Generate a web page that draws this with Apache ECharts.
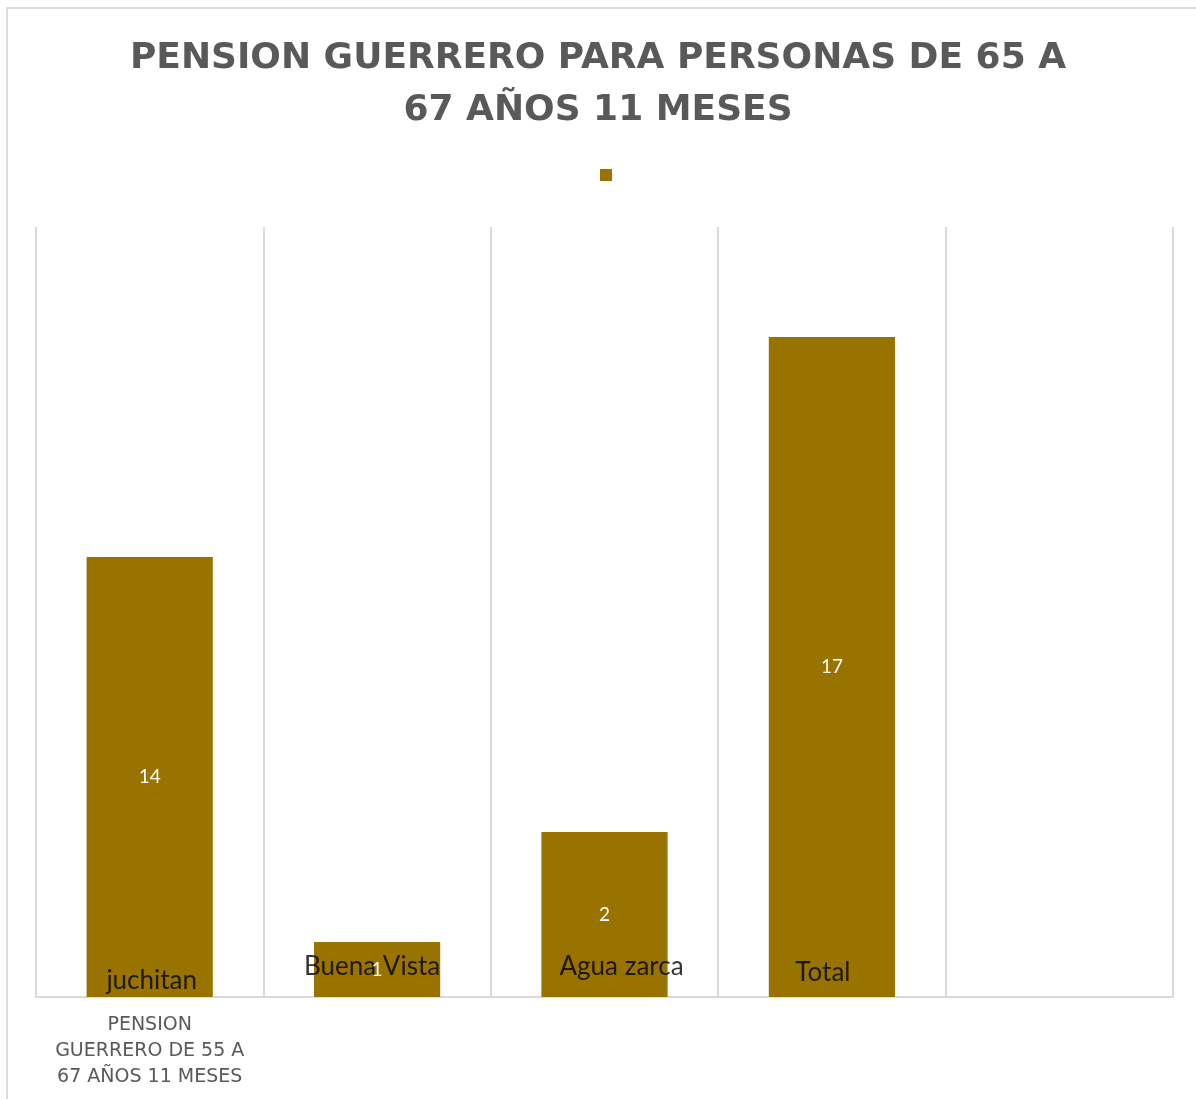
<!DOCTYPE html>
<html>
<head>
<meta charset="utf-8">
<script src="https://cdn.jsdelivr.net/npm/echarts@6/dist/echarts.min.js"></script>
<style>
  html, body { margin: 0; padding: 0; background: #fff; }
  #chart { width: 1196px; height: 1099px; }
</style>
</head>
<body>
<div id="chart"></div>
<script>
// Data
const categories = ['PENSION\nGUERRERO DE 55 A\n67 AÑOS 11 MESES', '', '', '', ''];
const barValues = [8, 1, 3, 12];
const valueLabels = ['14', '1', '2', '17'];
const placeNames = ['juchitan', 'Buena Vista', 'Agua zarca', 'Total'];
const titleText = 'PENSION GUERRERO PARA PERSONAS DE 65 A\n67 AÑOS 11 MESES';

const BAR_COLOR = '#997300';
const GRID_COLOR = '#d9d9d9';

// where the place names sit inside each bar (axis units) and their nudge
const nameLevels = [0.29, 0.56, 0.56, 0.44];
const nameShift = [2, -5, 17, -9];

const chart = echarts.init(document.getElementById('chart'));

chart.setOption({
  backgroundColor: '#fff',
  animation: false,
  title: {
    text: titleText,
    left: 'center',
    top: 28,
    textStyle: {
      fontFamily: 'DejaVu Sans',
      fontSize: 36,
      fontWeight: 'bold',
      color: '#595959',
      lineHeight: 52
    }
  },
  legend: {
    data: ['serie'],
    top: 164,
    left: 595,
    icon: 'rect',
    itemWidth: 12,
    itemHeight: 12,
    itemGap: 0,
    formatter: () => ''
  },
  grid: {
    left: 36,
    right: 23,
    top: 227,
    bottom: 102
  },
  xAxis: {
    type: 'category',
    data: categories,
    boundaryGap: true,
    axisLine: { lineStyle: { color: GRID_COLOR, width: 2 } },
    axisTick: { show: false },
    splitLine: { show: true, lineStyle: { color: GRID_COLOR, width: 2 } },
    axisLabel: {
      interval: 0,
      margin: 15,
      color: '#595959',
      fontFamily: 'DejaVu Sans',
      fontSize: 19,
      lineHeight: 26
    }
  },
  yAxis: {
    type: 'value',
    min: 0,
    max: 14,
    interval: 2,
    axisLine: { show: false },
    axisTick: { show: false },
    axisLabel: { show: false },
    splitLine: { show: false }
  },
  series: [
    {
      name: 'serie',
      type: 'bar',
      z: 2,
      barWidth: '55.5%',
      data: barValues,
      itemStyle: { color: BAR_COLOR }
    },
    {
      // place names written across the bars
      name: 'nombres',
      type: 'scatter',
      z: 3,
      silent: true,
      symbolSize: 0,
      data: placeNames.map((n, i) => ({
        value: [i, nameLevels[i]],
        name: n,
        label: { offset: [nameShift[i], 0] }
      })),
      label: {
        show: true,
        position: 'inside',
        formatter: p => p.name,
        color: '#000',
        fontFamily: 'Lato',
        fontSize: 26
      }
    },
    {
      // value labels, drawn on top of the names
      name: 'valores',
      type: 'bar',
      z: 4,
      barWidth: '55.5%',
      barGap: '-100%',
      silent: true,
      data: barValues,
      itemStyle: { color: 'rgba(0,0,0,0)' },
      label: {
        show: true,
        position: 'inside',
        formatter: p => valueLabels[p.dataIndex],
        color: '#fff',
        fontFamily: 'Lato',
        fontSize: 19
      }
    }
  ],
  graphic: [{
    type: 'rect',
    shape: { x: 7, y: 8, width: 1400, height: 1400 },
    style: { fill: 'none', stroke: '#dcdcdc', lineWidth: 2 },
    silent: true
  }]
});
</script>
</body>
</html>
